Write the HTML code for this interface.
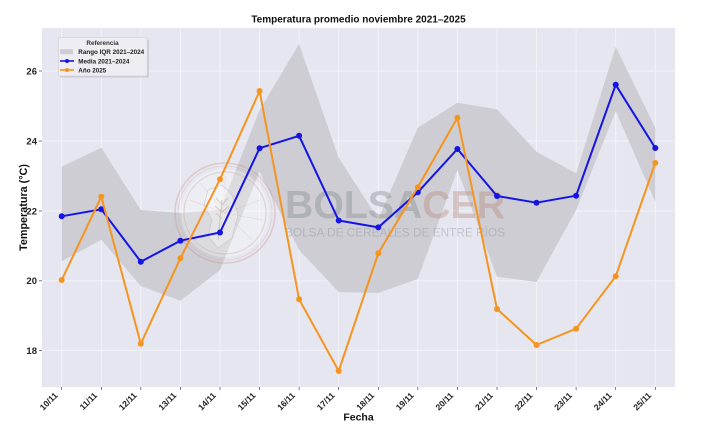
<!DOCTYPE html>
<html>
<head>
<meta charset="utf-8">
<style>
html,body{margin:0;padding:0;background:#fff;}
svg{display:block;font-family:"Liberation Sans",Arial,sans-serif;}
</style>
</head>
<body>
<svg width="711" height="429" viewBox="0 0 711 429" xmlns="http://www.w3.org/2000/svg">
  <rect x="0" y="0" width="711" height="429" fill="#ffffff"/>
  <!-- plot area -->
  <rect x="42" y="28" width="633" height="359" fill="#e6e6f0"/>
  <!-- grid -->
  <g stroke="#f4f4f8" stroke-width="0.8">
    <line x1="42" x2="675" y1="71" y2="71"/>
    <line x1="42" x2="675" y1="141" y2="141"/>
    <line x1="42" x2="675" y1="211" y2="211"/>
    <line x1="42" x2="675" y1="280.8" y2="280.8"/>
    <line x1="42" x2="675" y1="350.6" y2="350.6"/>
    <line x1="61.7" x2="61.7" y1="28" y2="387"/>
    <line x1="101.3" x2="101.3" y1="28" y2="387"/>
    <line x1="140.8" x2="140.8" y1="28" y2="387"/>
    <line x1="180.4" x2="180.4" y1="28" y2="387"/>
    <line x1="220" x2="220" y1="28" y2="387"/>
    <line x1="259.6" x2="259.6" y1="28" y2="387"/>
    <line x1="299.1" x2="299.1" y1="28" y2="387"/>
    <line x1="338.7" x2="338.7" y1="28" y2="387"/>
    <line x1="378.3" x2="378.3" y1="28" y2="387"/>
    <line x1="417.8" x2="417.8" y1="28" y2="387"/>
    <line x1="457.4" x2="457.4" y1="28" y2="387"/>
    <line x1="497" x2="497" y1="28" y2="387"/>
    <line x1="536.5" x2="536.5" y1="28" y2="387"/>
    <line x1="576.1" x2="576.1" y1="28" y2="387"/>
    <line x1="615.7" x2="615.7" y1="28" y2="387"/>
    <line x1="655.3" x2="655.3" y1="28" y2="387"/>
  </g>
  <!-- IQR band -->
  <polygon fill="#cdcdd3" points="61.7,166.7 101.3,147.7 140.8,210 180.4,213 220,210 259.6,110 299.1,44 338.7,158 378.3,219 417.8,127.7 457.4,102.7 497,109.3 536.5,151.7 576.1,173.3 615.7,46.7 655.3,127.7 655.3,201.7 615.7,111 576.1,210 536.5,282 497,276.7 457.4,170 417.8,279 378.3,293 338.7,292 299.1,250 259.6,171.7 220,270 180.4,300.7 140.8,286 101.3,239.7 61.7,261.3"/>

  <!-- watermark logo -->
  <g>
    <circle cx="225" cy="213" r="44" fill="rgba(255,255,255,0.28)"/>
    <circle cx="225" cy="213" r="50" fill="none" stroke="rgba(200,150,140,0.35)" stroke-width="1.6"/>
    <circle cx="225" cy="213" r="47" fill="none" stroke="rgba(200,150,140,0.25)" stroke-width="0.8"/>
    <circle cx="225" cy="213" r="41" fill="none" stroke="rgba(200,150,140,0.3)" stroke-width="1.2"/>
    <g stroke="rgba(200,160,150,0.25)" stroke-width="0.7">
      <line x1="225" y1="213" x2="225" y2="175"/>
      <line x1="225" y1="213" x2="250" y2="183"/>
      <line x1="225" y1="213" x2="260" y2="200"/>
      <line x1="225" y1="213" x2="262" y2="220"/>
      <line x1="225" y1="213" x2="252" y2="240"/>
      <line x1="225" y1="213" x2="200" y2="183"/>
      <line x1="225" y1="213" x2="190" y2="200"/>
    </g>
    <path d="M208,190 L222,185 L232,195 L238,215 L232,238 L218,248 L208,236 L212,220 L204,205 Z" fill="rgba(255,255,255,0.3)" stroke="rgba(160,150,150,0.3)" stroke-width="0.8"/>
    <path d="M218,240 L222,200 M222,205 L216,198 M222,212 L215,206 M222,219 L216,213 M222,205 L228,198 M222,212 L229,206" fill="none" stroke="rgba(170,140,120,0.35)" stroke-width="1.2"/>
  </g>
  <!-- watermark text -->
  <text x="285" y="218" font-size="39" font-weight="bold" textLength="220" lengthAdjust="spacingAndGlyphs"><tspan fill="rgba(130,138,140,0.4)">BOLSA</tspan><tspan fill="rgba(180,130,115,0.36)">CER</tspan></text>
  <text x="285" y="236.5" font-size="12" fill="rgba(140,145,150,0.4)" textLength="220" lengthAdjust="spacingAndGlyphs">BOLSA DE CEREALES DE ENTRE RÍOS</text>

  <!-- blue mean line -->
  <polyline fill="none" stroke="#1414e6" stroke-width="2" stroke-linejoin="round" points="61.7,216.3 101.3,209.3 140.8,261.7 180.4,240.7 220,232.5 259.6,148.2 299.1,135.8 338.7,220.5 378.3,227.4 417.8,192.3 457.4,149 497,196 536.5,202.7 576.1,195.7 615.7,84.8 655.3,148"/>
  <g fill="#1414e6">
    <circle cx="61.7" cy="216.3" r="3"/><circle cx="101.3" cy="209.3" r="3"/><circle cx="140.8" cy="261.7" r="3"/><circle cx="180.4" cy="240.7" r="3"/><circle cx="220" cy="232.5" r="3"/><circle cx="259.6" cy="148.2" r="3"/><circle cx="299.1" cy="135.8" r="3"/><circle cx="338.7" cy="220.5" r="3"/><circle cx="378.3" cy="227.4" r="3"/><circle cx="417.8" cy="192.3" r="3"/><circle cx="457.4" cy="149" r="3"/><circle cx="497" cy="196" r="3"/><circle cx="536.5" cy="202.7" r="3"/><circle cx="576.1" cy="195.7" r="3"/><circle cx="615.7" cy="84.8" r="3"/><circle cx="655.3" cy="148" r="3"/>
  </g>
  <!-- orange 2025 line -->
  <polyline fill="none" stroke="#f5951f" stroke-width="2" stroke-linejoin="round" points="61.7,280 101.3,196.7 140.8,343.7 180.4,258.3 220,179.3 259.6,91 299.1,299.3 338.7,371 378.3,253.2 417.8,187.2 457.4,117.7 497,309 536.5,345 576.1,328.7 615.7,276.3 655.3,163"/>
  <g fill="#f5951f">
    <circle cx="61.7" cy="280" r="3"/><circle cx="101.3" cy="196.7" r="3"/><circle cx="140.8" cy="343.7" r="3"/><circle cx="180.4" cy="258.3" r="3"/><circle cx="220" cy="179.3" r="3"/><circle cx="259.6" cy="91" r="3"/><circle cx="299.1" cy="299.3" r="3"/><circle cx="338.7" cy="371" r="3"/><circle cx="378.3" cy="253.2" r="3"/><circle cx="417.8" cy="187.2" r="3"/><circle cx="457.4" cy="117.7" r="3"/><circle cx="497" cy="309" r="3"/><circle cx="536.5" cy="345" r="3"/><circle cx="576.1" cy="328.7" r="3"/><circle cx="615.7" cy="276.3" r="3"/><circle cx="655.3" cy="163" r="3"/>
  </g>

  <!-- legend -->
  <rect x="59.8" y="39.2" width="89" height="38.3" rx="2" fill="#b8b8c0" opacity="0.6"/>
  <rect x="58.3" y="37.7" width="89" height="38.3" rx="2" fill="#ededf3" stroke="#cfcfd6" stroke-width="0.7"/>
  <text x="102.5" y="45" font-size="6.3" font-weight="bold" fill="#333" text-anchor="middle">Referencia</text>
  <rect x="60" y="49.2" width="13" height="5" fill="#cdcdd3"/>
  <text x="78.3" y="54" font-size="6.3" font-weight="bold" fill="#222">Rango IQR 2021–2024</text>
  <line x1="60" y1="61" x2="74" y2="61" stroke="#1414e6" stroke-width="1.6"/>
  <circle cx="67" cy="61" r="2" fill="#1414e6"/>
  <text x="78.3" y="63.3" font-size="6.3" font-weight="bold" fill="#222">Media 2021–2024</text>
  <line x1="60" y1="70" x2="74" y2="70" stroke="#f5951f" stroke-width="1.6"/>
  <circle cx="67" cy="70" r="2" fill="#f5951f"/>
  <text x="78.3" y="72.3" font-size="6.3" font-weight="bold" fill="#222">Año 2025</text>

  <!-- y ticks -->
  <g stroke="#444" stroke-width="0.7">
    <line x1="39" x2="42" y1="71" y2="71"/>
    <line x1="39" x2="42" y1="141" y2="141"/>
    <line x1="39" x2="42" y1="211" y2="211"/>
    <line x1="39" x2="42" y1="280.8" y2="280.8"/>
    <line x1="39" x2="42" y1="350.6" y2="350.6"/>
  </g>
  <g font-size="9.5" font-weight="bold" fill="#222" text-anchor="end">
    <text x="37" y="74.4">26</text>
    <text x="37" y="144.4">24</text>
    <text x="37" y="214.4">22</text>
    <text x="37" y="284.2">20</text>
    <text x="37" y="354">18</text>
  </g>
  <!-- x ticks -->
  <g stroke="#444" stroke-width="0.7">
    <line x1="61.7" x2="61.7" y1="387" y2="390"/><line x1="101.3" x2="101.3" y1="387" y2="390"/><line x1="140.8" x2="140.8" y1="387" y2="390"/><line x1="180.4" x2="180.4" y1="387" y2="390"/><line x1="220" x2="220" y1="387" y2="390"/><line x1="259.6" x2="259.6" y1="387" y2="390"/><line x1="299.1" x2="299.1" y1="387" y2="390"/><line x1="338.7" x2="338.7" y1="387" y2="390"/><line x1="378.3" x2="378.3" y1="387" y2="390"/><line x1="417.8" x2="417.8" y1="387" y2="390"/><line x1="457.4" x2="457.4" y1="387" y2="390"/><line x1="497" x2="497" y1="387" y2="390"/><line x1="536.5" x2="536.5" y1="387" y2="390"/><line x1="576.1" x2="576.1" y1="387" y2="390"/><line x1="615.7" x2="615.7" y1="387" y2="390"/><line x1="655.3" x2="655.3" y1="387" y2="390"/>
  </g>
  <g font-size="8.6" font-weight="bold" fill="#222" text-anchor="end">
    <text transform="translate(58.2,396) rotate(-45)">10/11</text>
    <text transform="translate(97.8,396) rotate(-45)">11/11</text>
    <text transform="translate(137.3,396) rotate(-45)">12/11</text>
    <text transform="translate(176.9,396) rotate(-45)">13/11</text>
    <text transform="translate(216.5,396) rotate(-45)">14/11</text>
    <text transform="translate(256.1,396) rotate(-45)">15/11</text>
    <text transform="translate(295.6,396) rotate(-45)">16/11</text>
    <text transform="translate(335.2,396) rotate(-45)">17/11</text>
    <text transform="translate(374.8,396) rotate(-45)">18/11</text>
    <text transform="translate(414.3,396) rotate(-45)">19/11</text>
    <text transform="translate(453.9,396) rotate(-45)">20/11</text>
    <text transform="translate(493.5,396) rotate(-45)">21/11</text>
    <text transform="translate(533,396) rotate(-45)">22/11</text>
    <text transform="translate(572.6,396) rotate(-45)">23/11</text>
    <text transform="translate(612.2,396) rotate(-45)">24/11</text>
    <text transform="translate(651.8,396) rotate(-45)">25/11</text>
  </g>

  <!-- axis labels & title -->
  <text x="358.5" y="420.5" font-size="10.5" font-weight="bold" fill="#111" text-anchor="middle">Fecha</text>
  <text transform="translate(27,207.5) rotate(-90)" font-size="10.8" font-weight="bold" fill="#111" text-anchor="middle">Temperatura (°C)</text>
  <text x="358.5" y="22.5" font-size="10" font-weight="bold" fill="#111" text-anchor="middle">Temperatura promedio noviembre 2021–2025</text>
</svg>
</body>
</html>
